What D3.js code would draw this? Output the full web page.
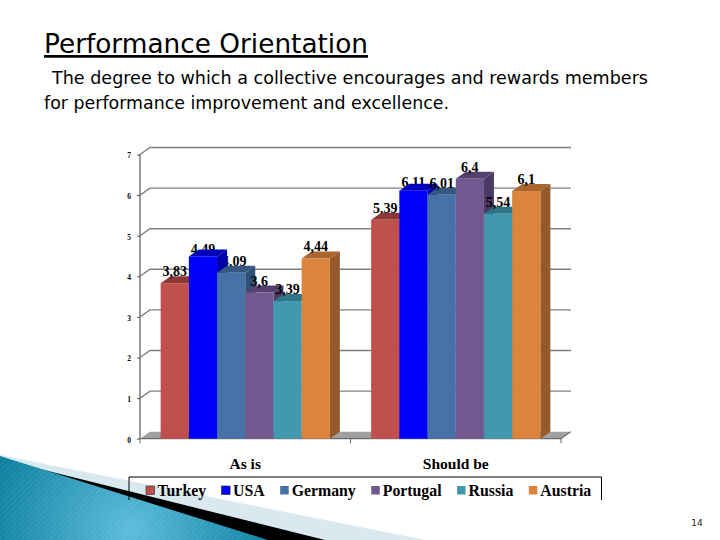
<!DOCTYPE html>
<html><head><meta charset="utf-8">
<script src="https://cdn.jsdelivr.net/npm/d3@7"></script>
<style>html,body{margin:0;padding:0;background:#fff}svg{display:block}</style></head>
<body><svg id="c" width="720" height="540"></svg>
<script>
const categories = ["As is", "Should be"];
const seriesNames = ["Turkey", "USA", "Germany", "Portugal", "Russia", "Austria"];
const asIs = [3.83, 4.49, 4.09, 3.6, 3.39, 4.44];
const shouldBe = [5.39, 6.11, 6.01, 6.4, 5.54, 6.1];
const yTicks = [0, 1, 2, 3, 4, 5, 6, 7];
const frontColors = ["#c0504d", "#0000ff", "#4672a8", "#71588f", "#4198af", "#db843d"];
const topColors = ["#8c3836", "#0000bb", "#34587f", "#54406e", "#2f7487", "#a9662f"];
const sideColors = ["#8c3836", "#0000a8", "#2f5077", "#4c3a66", "#2b6a7c", "#95592b"];
const behindAsIs = ["USA", "Germany"];
const behindShouldBe = ["Turkey", "USA"];
const nudgeAsIs = { USA: [0, 4.3], Germany: [3, 0.5] };
const nudgeShouldBe = { USA: [0, 3.3] };

const svg = d3.select("#c");
const defs = svg.append("defs");
const grad = defs.append("radialGradient").attr("id", "teal").attr("gradientUnits", "userSpaceOnUse")
  .attr("cx", 130).attr("cy", 530).attr("r", 145);
grad.append("stop").attr("offset", "0").attr("stop-color", "#5bbcdc");
grad.append("stop").attr("offset", "1").attr("stop-color", "#0b7f9e");
const hatch = defs.append("pattern").attr("id", "hatch").attr("width", 4).attr("height", 4)
  .attr("patternUnits", "userSpaceOnUse").attr("patternTransform", "rotate(-45)");
hatch.append("rect").attr("width", 4).attr("height", 1.5).attr("fill", "#ffffff").attr("opacity", 0.07);

// slide decoration
svg.append("polygon").attr("points", "0,455 425,540 0,540").attr("fill", "#d8e9ef");
svg.append("polygon").attr("points", "28,466 325,540 262,540").attr("fill", "#000");
svg.append("polygon").attr("points", "0,456 268,540 0,540").attr("fill", "url(#teal)");
svg.append("polygon").attr("points", "0,456 268,540 0,540").attr("fill", "url(#hatch)");

// slide text
const sans = "'DejaVu Sans', sans-serif";
svg.append("text").attr("x", 44).attr("y", 53).attr("font-family", sans)
  .attr("font-size", 27).attr("fill", "#000").attr("text-decoration", "underline")
  .attr("textLength", 324).attr("lengthAdjust", "spacingAndGlyphs").text("Performance Orientation");
svg.append("text").attr("x", 52).attr("y", 83.5).attr("font-family", sans).attr("font-size", 18)
  .attr("textLength", 596).attr("lengthAdjust", "spacingAndGlyphs")
  .text("The degree to which a collective encourages and rewards members");
svg.append("text").attr("x", 44).attr("y", 108.5).attr("font-family", sans).attr("font-size", 18)
  .attr("textLength", 405).attr("lengthAdjust", "spacingAndGlyphs")
  .text("for performance improvement and excellence.");
svg.append("text").attr("x", 697).attr("y", 526).attr("text-anchor", "middle").attr("font-family", sans)
  .attr("font-size", 9).attr("fill", "#222").text("14");

// chart
const x0 = d3.scaleBand().domain(categories).range([140, 561]);
const sw = 28.2;
const x1 = d3.scaleBand().domain(seriesNames).range([0, sw * seriesNames.length]);
const y = d3.scaleLinear().domain([0, 7]).range([438.7, 154.5]);
const dx = 10, dy = -7;
const serif = "'Liberation Serif', serif";
const axisGrey = "#808080";

// walls
svg.append("polygon").attr("points", `140,${y(0)} ${140 + dx},${y(0) + dy} 571,${y(0) + dy} 561,${y(0)}`).attr("fill", "#a0a0a0");
yTicks.filter(t => t > 0).forEach(t => {
  svg.append("path").attr("d", `M140,${y(t)}L${140 + dx},${y(t) + dy}L571,${y(t) + dy}`)
    .attr("fill", "none").attr("stroke", axisGrey).attr("stroke-width", 1.4);
});
svg.append("path").attr("d", `M140,${y(0)}V${y(7)}`).attr("stroke", axisGrey).attr("stroke-width", 1.6);

const axisG = svg.append("g").attr("transform", "translate(140,0)");
axisG.call(d3.axisLeft(y).tickValues(yTicks).tickSize(3).tickPadding(7).tickFormat(d3.format("d")));
axisG.select(".domain").remove();
axisG.selectAll("line").attr("stroke", "#555");
axisG.selectAll("text").attr("font-family", serif).attr("font-weight", "bold").attr("font-size", 7.5).attr("fill", "#000").attr("dy", "0.45em").attr("x", -9);

// bottom edge
svg.append("path").attr("d", `M140,${y(0)}H561L571,${y(0) + dy}`).attr("fill", "none").attr("stroke", "#555").attr("stroke-width", 1);
[140, x0("Should be"), 561].forEach(p => {
  svg.append("path").attr("d", `M${p},${y(0)}v4.5`).attr("stroke", "#666").attr("stroke-width", 1);
});

const groups = [
  { cat: categories[0], values: asIs, behind: behindAsIs, nudge: nudgeAsIs },
  { cat: categories[1], values: shouldBe, behind: behindShouldBe, nudge: nudgeShouldBe }
];
function barX(g, s) { return x0(g.cat) + (x0.bandwidth() - x1.range()[1]) / 2 + x1(s); }
function addLabel(g, s, i) {
  const v = g.values[i];
  const n = g.nudge[s] || [0, 0];
  svg.append("text").attr("x", barX(g, s) + x1.bandwidth() / 2 + n[0]).attr("y", y(v) - 7 + n[1])
    .attr("text-anchor", "middle").attr("font-family", serif).attr("font-weight", "bold")
    .attr("font-size", 14).attr("fill", "#000").text(String(v).replace(".", ","));
}
groups.forEach(g => {
  seriesNames.forEach((s, i) => { if (g.behind.includes(s)) addLabel(g, s, i); });
  seriesNames.forEach((s, i) => {
    const l = barX(g, s), w = x1.bandwidth(), t = y(g.values[i]), b = y(0);
    svg.append("polygon").attr("points", `${l + w},${b} ${l + w},${t} ${l + w + dx},${t + dy} ${l + w + dx},${b + dy}`).attr("fill", sideColors[i]);
    svg.append("polygon").attr("points", `${l},${t} ${l + dx},${t + dy} ${l + w + dx},${t + dy} ${l + w},${t}`).attr("fill", topColors[i]);
    svg.append("rect").attr("x", l).attr("y", t).attr("width", w).attr("height", b - t).attr("fill", frontColors[i]);
  });
  seriesNames.forEach((s, i) => { if (!g.behind.includes(s)) addLabel(g, s, i); });
});

// category labels
categories.forEach(c => {
  svg.append("text").attr("x", x0(c) + x0.bandwidth() / 2).attr("y", 468.5).attr("text-anchor", "middle")
    .attr("font-family", serif).attr("font-weight", "bold").attr("font-size", 15.5).text(c);
});

// legend (open at the bottom, as in the reference)
svg.append("path").attr("d", "M129,500V477H601.5V500").attr("fill", "none").attr("stroke", "#000").attr("stroke-width", 1);
let lx = 146;
seriesNames.forEach((s, i) => {
  svg.append("rect").attr("x", lx).attr("y", 486).attr("width", 8.5).attr("height", 8.5).attr("fill", frontColors[i])
    .attr("stroke", i < 2 ? "#222" : "none").attr("stroke-width", 0.6);
  const t = svg.append("text").attr("x", lx + 11.5).attr("y", 496).attr("font-family", serif)
    .attr("font-weight", "bold").attr("font-size", 15.8).text(s);
  lx += 11.5 + t.node().getComputedTextLength() + 15.5;
});
</script></body></html>
